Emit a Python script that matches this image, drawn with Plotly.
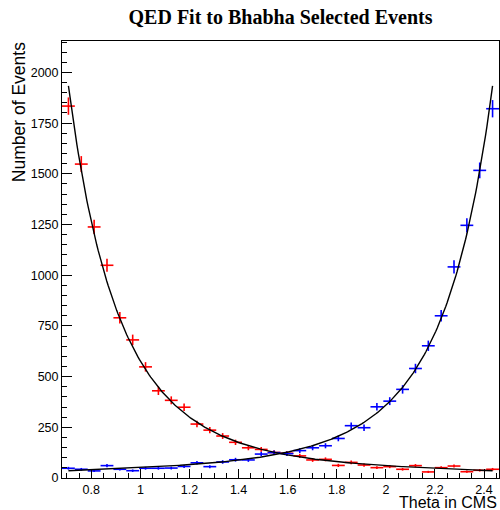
import numpy as np
import plotly.graph_objects as go

# Histogram binning: 34 bins of 3 degrees from 39 to 141 degrees (in radians)
bin_lo_deg = 39.0
bin_width_deg = 3.0
n_bins = 34

# Red: forward-selected events per bin
red_counts = [1834, 1548, 1238, 1049, 790, 681, 548, 430, 383, 349,
              266, 236, 207, 176, 149, 141, 126, 122, 109, 89,
              92, 62, 77, 64, 51, 56, 43, 61, 30, 51,
              59, 31, 38, 43]
# Blue: backward-selected events per bin
blue_counts = [48, 43, 35, 61, 43, 36, 48, 48, 49, 57,
               75, 56, 79, 90, 89, 118, 125, 120, 135, 149,
               159, 195, 258, 248, 351, 379, 437, 540, 652, 800,
               1041, 1246, 1517, 1821]

# QED fit normalisation
fit_norm = 13.35

x_title = "Theta in CMS"
y_title = "Number of Events"
title = "QED Fit to Bhabha Selected Events"

bw = np.deg2rad(bin_width_deg)
x0 = np.deg2rad(bin_lo_deg)
centers = x0 + bw * (np.arange(n_bins) + 0.5)
xmin, xmax = x0, x0 + bw * n_bins

red = np.array(red_counts, dtype=float)
blue = np.array(blue_counts, dtype=float)

fig = go.Figure()

def add_hist(vals, color):
    fig.add_trace(go.Scatter(
        x=centers, y=vals, mode="markers",
        marker=dict(size=1, color=color),
        error_x=dict(type="constant", value=bw / 2, color=color, thickness=1.6, width=0),
        error_y=dict(type="data", array=np.sqrt(vals), color=color, thickness=1.6, width=0),
        showlegend=False, hoverinfo="skip", cliponaxis=True))

add_hist(red, "#ff0000")
add_hist(blue, "#0000ff")

th = np.linspace(centers[0], centers[-1], 300)
c = np.cos(th)
s = np.sin(th)
fit_red = fit_norm * s * ((3 + c**2) / (1 - c))**2
fit_blue = fit_norm * s * ((3 + c**2) / (1 + c))**2
for f in (fit_red, fit_blue):
    fig.add_trace(go.Scatter(x=th, y=f, mode="lines",
                             line=dict(color="black", width=1.4),
                             showlegend=False, hoverinfo="skip"))

axis_font = dict(family="Liberation Sans, Arial, sans-serif", size=12.5, color="black")

fig.update_layout(
    width=500, height=510,
    margin=dict(l=62, r=1, t=41, b=32),
    paper_bgcolor="white", plot_bgcolor="white",
    title=dict(text=title, x=(62 + 499) / 2 / 500, xanchor="center",
               y=1 - 16.5 / 510, yanchor="middle", yref="container",
               font=dict(family="Liberation Serif, Times New Roman, serif", size=20,
                         color="black", weight="bold")),
    xaxis=dict(range=[xmin, xmax], showgrid=False, zeroline=False,
               showline=True, mirror=True, linecolor="black", linewidth=1,
               ticks="inside", ticklen=9, tickcolor="black", tickwidth=1,
               dtick=0.2, tick0=0, tickfont=axis_font,
               minor=dict(ticks="inside", ticklen=5, dtick=0.05, tick0=0,
                          tickcolor="black", showgrid=False)),
    yaxis=dict(range=[0, 2155], showgrid=False, zeroline=False,
               showline=True, mirror=True, linecolor="black", linewidth=1,
               ticks="inside", ticklen=10, tickcolor="black", tickwidth=1,
               dtick=250, tick0=0, tickfont=axis_font,
               minor=dict(ticks="inside", ticklen=5, dtick=50, tick0=0,
                          tickcolor="black", showgrid=False)),
    annotations=[
        dict(text=x_title, xref="paper", yref="paper", x=1, y=-(503 - 478) / 437,
             xanchor="right", yanchor="middle", showarrow=False,
             font=dict(family="Liberation Sans, Arial, sans-serif", size=16, color="black")),
        dict(text=y_title, xref="paper", yref="paper", x=(19 - 62) / 437, y=1.002,
             xanchor="center", yanchor="top", textangle=-90, showarrow=False,
             font=dict(family="Liberation Sans, Arial, sans-serif", size=17.5, color="black")),
    ],
)

fig.write_html("out.html", config={"displayModeBar": False},
               post_script="document.body.style.margin='0';document.body.style.overflow='hidden';")
